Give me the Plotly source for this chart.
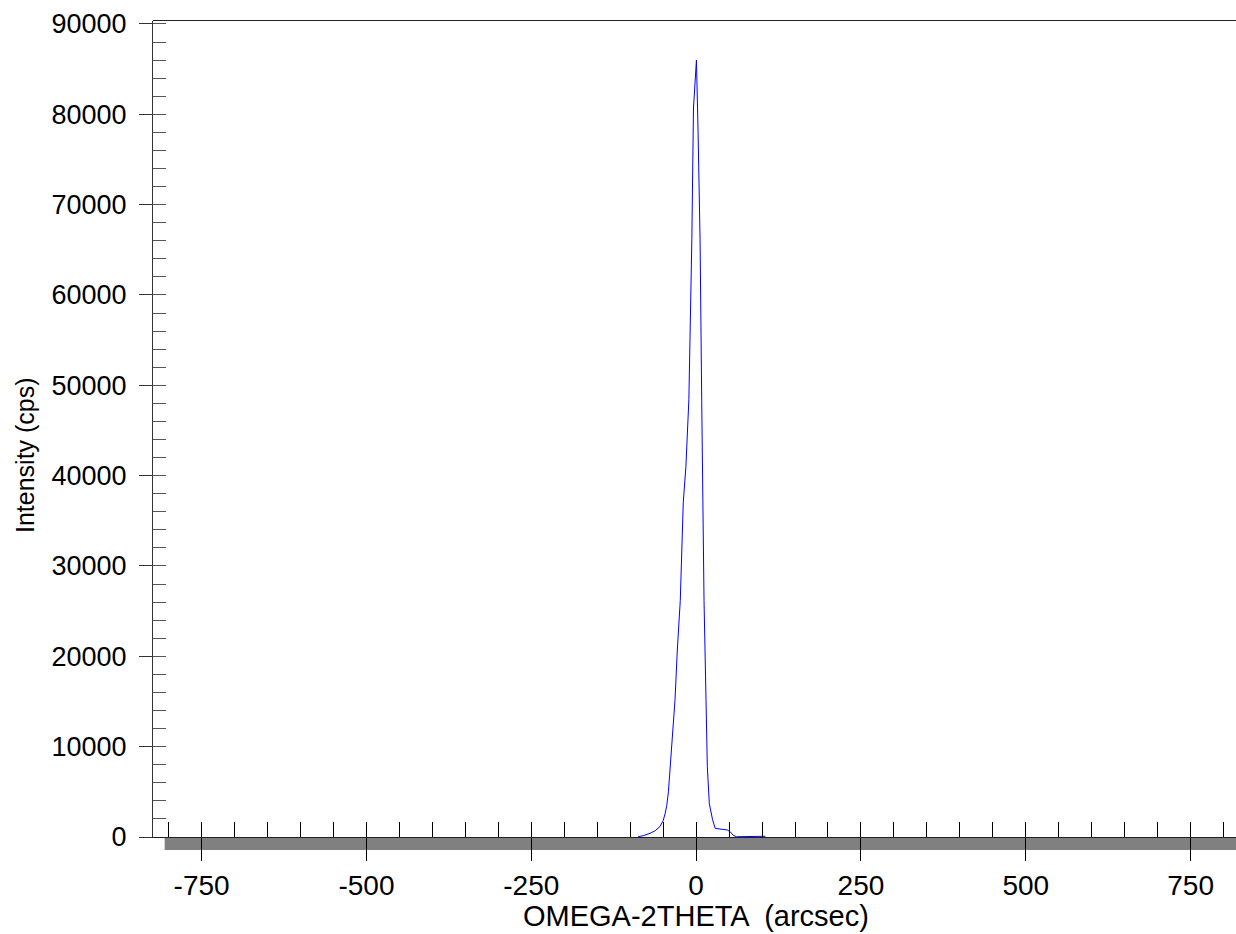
import plotly.graph_objects as go

# ---- data ----
offset_arcsec = [-88, -80, -70, -62, -55, -50, -47, -44.5, -42, -38.5, -35.5, -32, -28.5, -24,
                 -19.5, -15.5, -11, -8, -6.5, -4, 0.5, 3, 6, 8.5, 12, 15, 17, 20, 25, 29,
                 40, 47, 51.5, 56, 61, 70, 80, 90, 105]
intensity_cps = [30, 150, 400, 700, 1150, 1800, 2600, 3500, 5000, 8500, 11500, 15200, 20700, 26200,
                 37000, 41000, 48400, 59400, 66100, 80700, 86000, 78000, 66100, 48200, 26200, 15200,
                 7800, 3700, 1900, 950, 800, 780, 600, 200, 30, 50, 60, 70, 80]

x_tick_vals = [-750, -500, -250, 0, 250, 500, 750]
x_tick_text = ["-750", "-500", "-250", "0", "250", "500", "750"]
y_tick_vals = [0, 10000, 20000, 30000, 40000, 50000, 60000, 70000, 80000, 90000]
y_tick_text = ["0", "10000", "20000", "30000", "40000", "50000", "60000", "70000", "80000", "90000"]

x_title = "OMEGA-2THETA  (arcsec)"
y_title = "Intensity (cps)"

# ---- styling / layout constants ----
X_RANGE = [-823.7, 818.8]
Y_RANGE = [0, 90330]
X_MINOR_STEP = 50
Y_MINOR_STEP = 2000
BAND_START = -806
BAND_END = 2000
FONT = "Liberation Sans, Arial, sans-serif"

fig = go.Figure()
fig.add_trace(go.Scatter(x=offset_arcsec, y=intensity_cps, mode="lines",
                         line=dict(color="#0000ff", width=1),
                         hoverinfo="skip", showlegend=False))
# empty trace to attach the minor-tick overlay axes
fig.add_trace(go.Scatter(x=[None], y=[None], xaxis="x2", yaxis="y2",
                         hoverinfo="skip", showlegend=False))

fig.update_layout(
    width=1236, height=934,
    margin=dict(l=153, r=0, t=21, b=97),
    paper_bgcolor="white", plot_bgcolor="white",
    font=dict(family=FONT, color="black"),
    xaxis=dict(range=X_RANGE, tickmode="array", tickvals=x_tick_vals, ticktext=x_tick_text,
               ticks="outside", ticklen=23, tickwidth=1, tickcolor="black",
               showline=True, linecolor="#222", linewidth=1,
               showgrid=False, zeroline=False, tickfont=dict(size=28, family=FONT),
               ticklabelstandoff=0),
    yaxis=dict(range=Y_RANGE, tickmode="array", tickvals=y_tick_vals, ticktext=y_tick_text,
               ticks="outside", ticklen=13, tickwidth=1, tickcolor="#333",
               showline=True, linecolor="#333", linewidth=1,
               showgrid=False, zeroline=False, tickfont=dict(size=27, family=FONT),
               ticklabelstandoff=7),
    xaxis2=dict(overlaying="x", anchor="y2", side="bottom", range=X_RANGE,
                tickmode="linear", tick0=0, dtick=X_MINOR_STEP,
                ticks="inside", ticklen=15, tickwidth=1, tickcolor="black",
                showticklabels=False, showline=False, showgrid=False, zeroline=False),
    yaxis2=dict(overlaying="y", anchor="x2", side="left", range=Y_RANGE,
                tickmode="linear", tick0=0, dtick=Y_MINOR_STEP,
                ticks="inside", ticklen=13, tickwidth=1, tickcolor="#555",
                showticklabels=False, showline=False, showgrid=False, zeroline=False),
    shapes=[
        dict(type="rect", xref="x", yref="paper", x0=BAND_START, x1=BAND_END,
             y0=0, y1=-13 / 816, fillcolor="#808080", line=dict(width=0), layer="below"),
        dict(type="line", xref="paper", yref="paper", x0=0, x1=1,
             y0=1 + 0.5 / 816, y1=1 + 0.5 / 816,
             line=dict(color="#222", width=1)),
    ],
    annotations=[
        dict(text=x_title, xref="paper", yref="paper", x=(695.5 - 153) / 1083,
             y=(837 - 916) / 816, xanchor="center", yanchor="middle", showarrow=False,
             font=dict(size=29, family=FONT, color="black")),
        dict(text=y_title, xref="paper", yref="paper", x=(25 - 153) / 1083,
             y=(837 - 455) / 816, xanchor="center", yanchor="middle", showarrow=False,
             textangle=-90, font=dict(size=25, family=FONT, color="black")),
    ],
)

fig.write_html("out.html", config={"displayModeBar": False},
               post_script="document.body.style.margin='0px';")
